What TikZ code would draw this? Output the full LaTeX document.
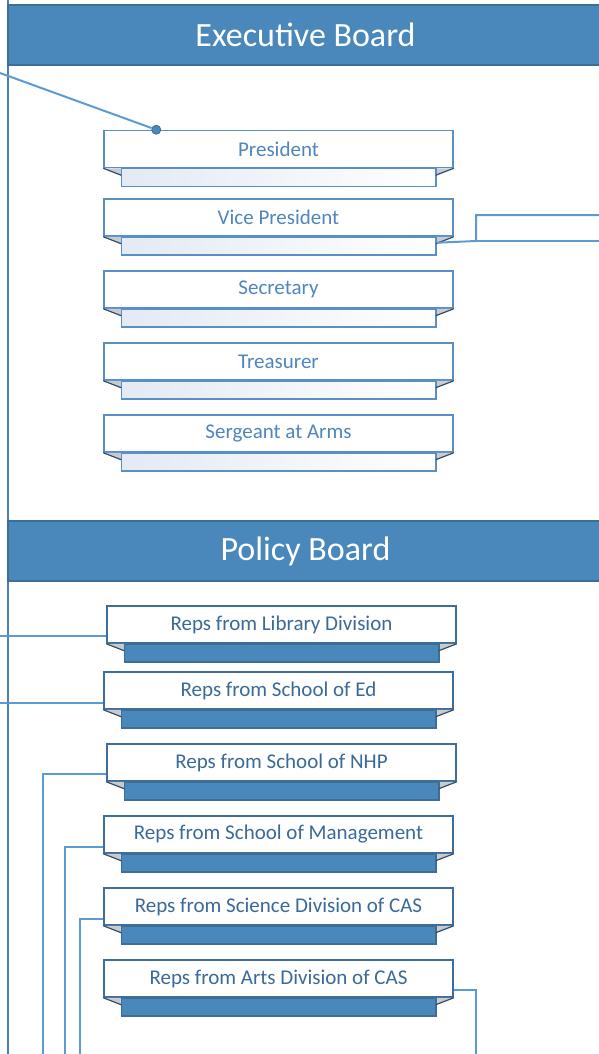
\documentclass[tikz,border=0pt]{standalone}
\usepackage{fontspec}
\setmainfont{Carlito}
\usetikzlibrary{calc,positioning}

\definecolor{hdrblue}{HTML}{4A87BB}
\definecolor{hdredge}{HTML}{3C6E9A}
\definecolor{linkblue}{HTML}{5B9BD5}
\definecolor{frameblue}{HTML}{4A7FB0}
\definecolor{execedge}{HTML}{5A8EC6}
\definecolor{exectext}{HTML}{4F86C0}
\definecolor{poledge}{HTML}{3E6D98}
\definecolor{poltext}{HTML}{3A6A99}
\definecolor{foldgray}{HTML}{C9CBCE}
\definecolor{folddark}{HTML}{2F4F6F}
\definecolor{tabpale}{HTML}{E3EAF4}

\tikzset{
  header/.style={draw=hdredge, fill=hdrblue, line width=1.2pt, text=white,
    font=\fontsize{34}{36}\selectfont, minimum height=60pt,
    minimum width=595pt, inner sep=0pt},
  execbox/.style={draw=execedge, fill=white, line width=1.5pt, text=exectext,
    minimum width=349pt, minimum height=37pt, inner sep=0pt,
    font=\fontsize{21}{22}\selectfont},
  polbox/.style={execbox, draw=poledge, text=poltext},
  exectab/.style={draw=execedge, line width=1.5pt, left color=tabpale, right color=white},
  poltab/.style={draw=poledge, line width=1.5pt, fill=hdrblue},
  foldline/.style={draw=folddark, line width=1.2pt},
  link/.style={draw=linkblue, line width=2pt},
}

% tab and folded corners under a box
\newcommand{\ribbontab}[2]{%
  \fill[foldgray] (#1.south west) -- ++(18,0) -- ++(0,7) -- cycle;
  \fill[foldgray] (#1.south east) -- ++(-18,0) -- ++(0,7) -- cycle;
  \draw[#2] ($(#1.south west)+(18,0)$) rectangle ($(#1.south east)+(-18,18)$);
  \draw[foldline] (#1.south west) -- ++(18,7);
  \draw[foldline] (#1.south east) -- ++(-18,7);
}

\begin{document}
\begin{tikzpicture}[x=1pt,y=-1pt]
  \useasboundingbox (0,0) rectangle (599,1054);
  \draw[frameblue, line width=1.5pt] (8,0) -- (8,1054);
  %
  \node[header] (exec) at (305.5,35) {Executive Board};
  \node[header] (policy) at (305.5,551) {Policy Board};
  %
  \node[execbox] (pres) at (278.5,149) {President};
  \node[execbox] (vice) at (278.5,217.5) {Vice President};
  \node[execbox] (sec) at (278.5,289.5) {Secretary};
  \node[execbox] (treas) at (278.5,361.5) {Treasurer};
  \node[execbox] (sarms) at (278.5,433.5) {Sergeant at Arms};
  \foreach \n in {pres,vice,sec,treas,sarms}
    \ribbontab{\n}{exectab};
  %
  \node[polbox] (libr) at (281.5,624.5) {Reps from Library Division};
  \node[polbox] (sched) at (278.5,690.5) {Reps from School of Ed};
  \node[polbox] (nhp) at (281.5,762.5) {Reps from School of NHP};
  \node[polbox] (mgmt) at (278.5,834.5) {Reps from School of Management};
  \node[polbox] (sci) at (278.5,906.5) {Reps from Science Division of CAS};
  \node[polbox] (arts) at (278.5,978.5) {Reps from Arts Division of CAS};
  \foreach \n in {libr,sched,nhp,mgmt,sci,arts}
    \ribbontab{\n}{poltab};
  %
  \coordinate (presin) at (0,73);
  \coordinate (vicejoin) at (476,241);
  \coordinate (viceout1) at (599,215);
  \coordinate (viceout2) at (599,241);
  \coordinate (librin) at (0,636);
  \coordinate (schedin) at (0,703);
  \coordinate (nhpdown) at (43,1054);
  \coordinate (mgmtdown) at (65,1054);
  \coordinate (scidown) at (80,1054);
  \coordinate (artsdown) at (476,1054);
  %
  \node[circle, fill=hdrblue, draw=hdredge, line width=0.8pt, inner sep=0pt,
    minimum size=9pt] (presdot) at ($(pres.north west)+(53,0)$) {};
  \draw[link] (presin) -- (presdot);
  \draw[link] ($(vice.south east)+(-17,6)$) -- (vicejoin) |- (viceout1);
  \draw[link] (vicejoin) -- (viceout2);
  \draw[link] (librin) -- (librin -| libr.west);
  \draw[link] (schedin) -- (schedin -| sched.west);
  \draw[link] (nhpdown) |- ($(nhp.west)+(0,11.5)$);
  \draw[link] (mgmtdown) |- ($(mgmt.west)+(0,12.5)$);
  \draw[link] (scidown) |- ($(sci.west)+(0,12.5)$);
  \draw[link] (artsdown) |- ($(arts.east)+(0,11.5)$);
\end{tikzpicture}
\end{document}
